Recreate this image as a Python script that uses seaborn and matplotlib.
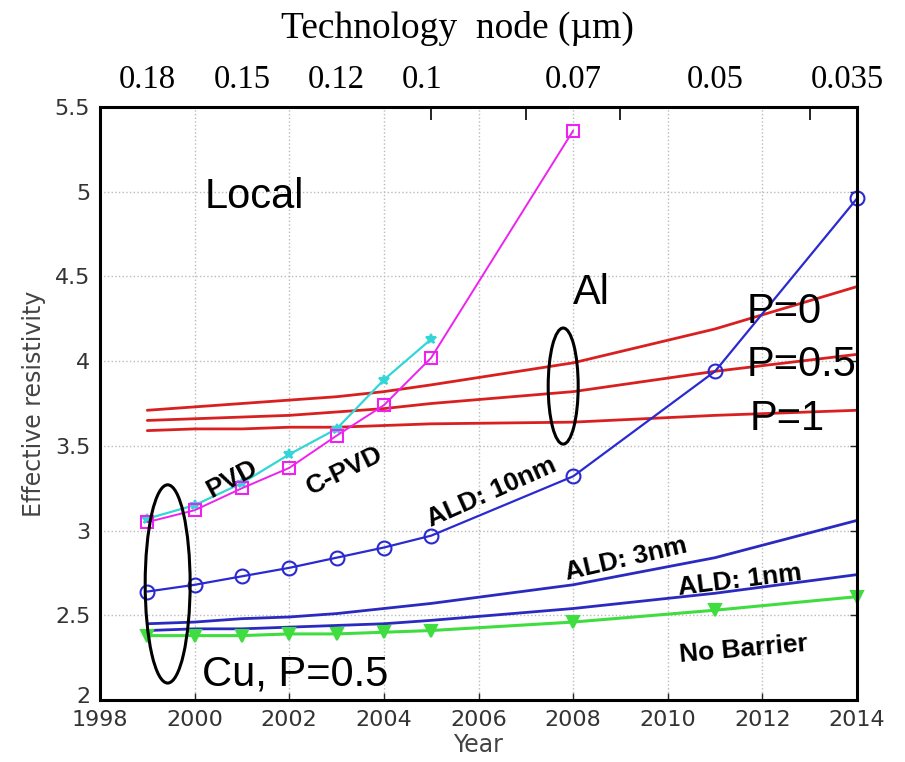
import matplotlib
matplotlib.use("Agg")
import matplotlib.pyplot as plt
import matplotlib.transforms as mtransforms
import seaborn as sns
from matplotlib.patches import Ellipse

# data
years = [1999, 2000, 2001, 2002, 2003, 2004, 2005, 2008, 2011, 2014]
pvd_years = [1999, 2000, 2001, 2002, 2003, 2004, 2005]
pvd = [3.07, 3.15, 3.28, 3.45, 3.60, 3.89, 4.13]
cpvd_years = [1999, 2000, 2001, 2002, 2003, 2004, 2005, 2008]
cpvd = [3.05, 3.12, 3.25, 3.37, 3.56, 3.74, 4.02, 5.36]
ald10 = [2.64, 2.68, 2.73, 2.78, 2.84, 2.90, 2.97, 3.32, 3.94, 4.96]
ald3 = [2.45, 2.46, 2.48, 2.49, 2.51, 2.54, 2.57, 2.68, 2.84, 3.06]
ald1 = [2.41, 2.42, 2.42, 2.43, 2.44, 2.45, 2.47, 2.54, 2.63, 2.74]
no_barrier = [2.38, 2.38, 2.38, 2.39, 2.39, 2.40, 2.41, 2.46, 2.53, 2.61]
al_p0 = [3.71, 3.73, 3.75, 3.77, 3.79, 3.82, 3.86, 3.99, 4.19, 4.44]
al_p05 = [3.65, 3.66, 3.67, 3.68, 3.70, 3.72, 3.75, 3.82, 3.94, 4.04]
al_p1 = [3.59, 3.60, 3.60, 3.61, 3.61, 3.62, 3.63, 3.64, 3.68, 3.71]

x_ticks = list(range(1998, 2015, 2))
y_ticks = [2, 2.5, 3, 3.5, 4, 4.5, 5, 5.5]
node_years = [1999, 2001, 2003, 2004.8, 2008, 2011, 2013.8]
node_labels = ["0.18", "0.15", "0.12", "0.1", "0.07", "0.05", "0.035"]

sns.set_theme(style="white")
plt.rcParams['font.family'] = ['DejaVu Sans']
plt.rcParams['text.color'] = 'black'

fig = plt.figure(figsize=(9.05, 7.62), dpi=100)
ax = fig.add_axes([100 / 905, 62 / 762, 757 / 905, 593 / 762])


def draw(xs, ys, color, marker=None, mfc='none', ms=9, lw=1.6):
    kw = dict(color=color, linewidth=lw, clip_on=False)
    if marker:
        kw.update(marker=marker, markersize=ms, markerfacecolor=mfc,
                  markeredgecolor=color, markeredgewidth=1.5)
    sns.lineplot(x=xs, y=ys, ax=ax, estimator=None, sort=False, **kw)


# Al lines
for vals in [al_p0, al_p05, al_p1]:
    draw(years, vals, '#d92020', lw=2.0)

draw(pvd_years, pvd, '#33d6d6', marker='*', mfc='#33d6d6', ms=7)
draw(cpvd_years, cpvd, '#ee22ee', marker='s', ms=9, lw=1.4)
draw(years, ald10, '#2a2ad0', marker='o', ms=10)
draw(years, ald3, '#2a2ac0', lw=2.0)
draw(years, ald1, '#2a2ac0', lw=2.0)
draw(years, no_barrier, '#40dd40', marker='v', mfc='#40dd40', ms=9, lw=2.2)

ax.set_xlim(1998, 2014)
ax.set_ylim(2, 5.5)
ax.set_xticks(x_ticks)
ax.set_yticks(y_ticks)
ax.set_yticklabels([f"{v:g}" for v in y_ticks])
ax.tick_params(direction='in', length=5, width=1, top=False, right=True,
               labelsize=16, labelcolor='#333333', pad=7)
# lift the "2" a little so it sits above "1998" like in MATLAB
first = ax.get_yticklabels()[0]
first.set_transform(first.get_transform() + mtransforms.ScaledTranslation(0, 5 / 100, fig.dpi_scale_trans))
ax.grid(True, linestyle=':', color='#bbbbbb', linewidth=1)
for s in ax.spines.values():
    s.set_visible(True)
    s.set_color('black')
    s.set_linewidth(2.2)
    s.set_zorder(8)
ax.set_xlabel("Year", fontsize=17, color='#444444', labelpad=2)
ax.set_ylabel("Effective resistivity", fontsize=17, color='#444444', labelpad=6)

# ellipses
ax.add_patch(Ellipse((1999.43, 2.685), 0.95, 1.17, fill=False, ec='black', lw=2.2, zorder=6))
ax.add_patch(Ellipse((2007.79, 3.853), 0.634, 0.685, fill=False, ec='black', lw=2.2, zorder=6))

big = dict(fontsize=30, family='Liberation Sans', color='black', ha='left', va='baseline', zorder=7)
ax.text(2000.22, 4.904, "Local", **big)
ax.text(2008.0, 4.337, "Al", **big)
ax.text(2011.66, 4.225, "P=0", **big)
ax.text(2011.66, 3.912, "P=0.5", **big)
ax.text(2011.72, 3.593, "P=1", **big)
ax.text(2000.16, 2.088, "Cu, P=0.5", **big)

lab = dict(fontsize=19, family='Liberation Sans', fontweight='bold', color='black', ha='left',
           va='baseline', rotation_mode='anchor', zorder=7)
ax.text(2000.35, 3.19, "PVD", rotation=28, **lab)
ax.text(2002.46, 3.21, "C-PVD", rotation=26, **lab)
ax.text(2005.0, 3.02, "ALD: 10nm", rotation=24, **lab)
ax.text(2007.87, 2.71, "ALD: 3nm", rotation=13, **lab)
ax.text(2010.24, 2.62, "ALD: 1nm", rotation=7, **lab)
ax.text(2010.26, 2.224, "No Barrier", rotation=5, **lab)

# technology node axis on top
ax2 = ax.twiny()
ax2.set_xlim(1998, 2014)
ax2.set_xticks(node_years)
ax2.set_xticklabels(node_labels, fontfamily='Liberation Serif', fontsize=23.5, color='black')
ax2.set_xticks(list(range(1999, 2014, 2)), minor=True)
ax2.tick_params(axis='x', which='major', length=0, pad=9)
ax2.tick_params(axis='x', which='minor', direction='in', length=9, width=1.2, color='black')
ax2.grid(False)
for s in ax2.spines.values():
    s.set_visible(False)

fig.text(457 / 905, 1 - 38 / 762, "Technology  node (\u00b5m)", family='Liberation Serif',
         fontsize=27, color='black', ha='center', va='baseline')

fig.savefig("out.png", dpi=100)
